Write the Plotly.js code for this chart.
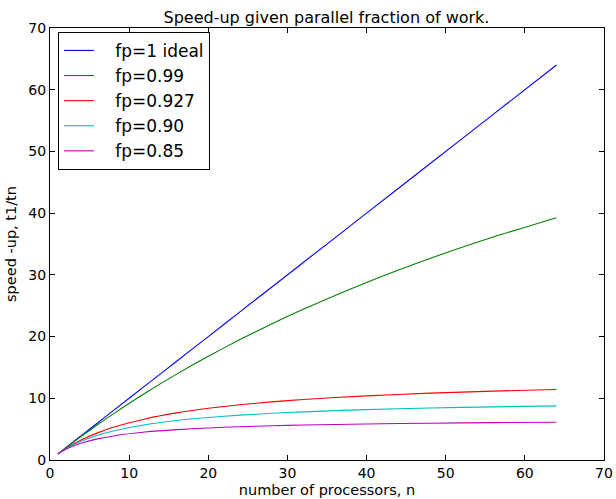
<!DOCTYPE html>
<html>
<head>
<meta charset="utf-8">
<script src="https://cdn.plot.ly/plotly-3.0.1.min.js"></script>
<style>html,body{margin:0;padding:0;background:#fff;}#chart{width:616px;height:499px;}</style>
</head>
<body>
<div id="chart"></div>
<script>
const nProcs = [1, 2, 3, 4, 6, 8, 12, 16, 20, 24, 28, 32, 40, 48, 56, 64];
const ideal  = [1, 2, 3, 4, 6, 8, 12, 16, 20, 24, 28, 32, 40, 48, 56, 64];
const fp099  = [1, 1.980, 2.941, 3.883, 5.714, 7.477, 10.811, 13.913, 16.807, 19.512, 22.047, 24.427, 28.777, 32.653, 36.129, 39.264];
const fp0927 = [1, 1.864, 2.618, 3.281, 4.396, 5.295, 6.656, 7.637, 8.379, 8.959, 9.424, 9.807, 10.398, 10.833, 11.166, 11.431];
const fp090  = [1, 1.818, 2.500, 3.077, 4.000, 4.706, 5.714, 6.400, 6.897, 7.273, 7.568, 7.805, 8.163, 8.421, 8.615, 8.767];
const fp085  = [1, 1.739, 2.308, 2.759, 3.429, 3.902, 4.528, 4.923, 5.195, 5.393, 5.545, 5.664, 5.839, 5.963, 6.054, 6.124];
const seriesNames = ['fp=1 ideal', 'fp=0.99', 'fp=0.927', 'fp=0.90', 'fp=0.85'];
const seriesColors = ['#0000ff', '#008000', '#ff0000', '#00bfbf', '#bf00bf'];
const seriesData = [ideal, fp099, fp0927, fp090, fp085];

const pad = '\u00a0\u00a0\u00a0';
const traces = seriesData.map((ys, i) => ({
  x: nProcs, y: ys, type: 'scatter', mode: 'lines', name: pad + seriesNames[i],
  line: {color: seriesColors[i], width: 1.1, shape: 'spline', smoothing: 0.6}
}));

const font = {family: 'DejaVu Sans, sans-serif', color: '#000'};
const axisCommon = {
  showgrid: false, zeroline: false, showline: true, linecolor: '#000', linewidth: 1,
  mirror: 'ticks', ticks: 'inside', ticklen: 5, tickwidth: 1, tickcolor: '#000',
  tickfont: {family: font.family, size: 14, color: '#000'}
};
const layout = {
  width: 616, height: 499,
  margin: {l: 50, r: 12, t: 28, b: 39},
  paper_bgcolor: '#fff', plot_bgcolor: '#fff',
  title: {text: 'Speed-up given parallel fraction of work.', font: {family: font.family, size: 16, color: '#000'}, x: 0.53, xanchor: 'center', y: 0.966, yanchor: 'middle'},
  xaxis: Object.assign({}, axisCommon, {range: [0, 70], dtick: 10, tick0: 0,
    title: {text: 'number of processors, n', font: {family: font.family, size: 14.5, color: '#000'}, standoff: 5}}),
  yaxis: Object.assign({}, axisCommon, {range: [0, 70], dtick: 10, tick0: 0,
    title: {text: 'speed -up, t1/tn', font: {family: font.family, size: 14.5, color: '#000'}, standoff: 8}}),
  showlegend: true,
  legend: {x: 0.0144, y: 0.991, xanchor: 'left', yanchor: 'top', bgcolor: '#fff', bordercolor: '#000', borderwidth: 1,
    font: {family: font.family, size: 17, color: '#000'}, tracegroupgap: 0, itemwidth: 30}
};
Plotly.newPlot('chart', traces, layout, {displayModeBar: false, staticPlot: true});
</script>
</body>
</html>
